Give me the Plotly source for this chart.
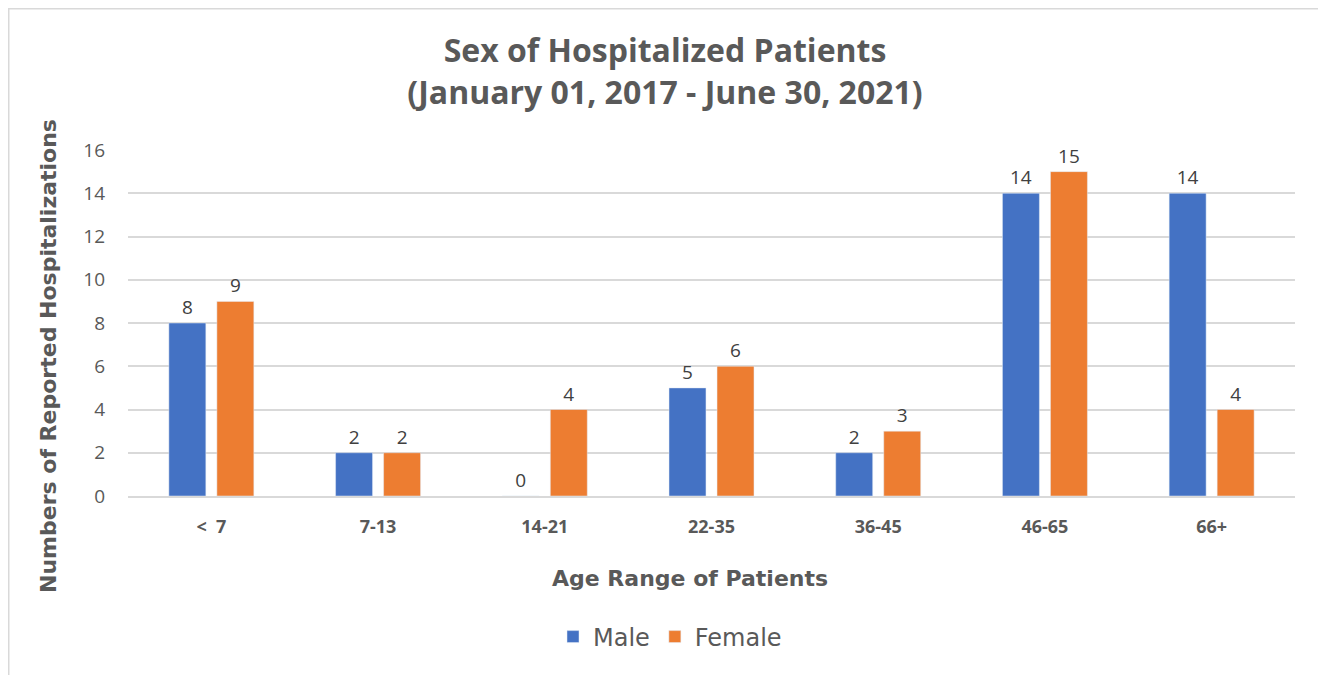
import plotly.graph_objects as go

# data
age_ranges = ["<  7", "7-13", "14-21", "22-35", "36-45", "46-65", "66+"]
male = [8, 2, 0, 5, 2, 14, 14]
female = [9, 2, 4, 6, 3, 15, 4]
y_ticks = [0, 2, 4, 6, 8, 10, 12, 14, 16]

GRAY = "#595959"
LABEL = "#404040"

# the page puts the figure 8px in from the top left corner
W, H = 1318, 667
ML, MR, MT, MB = 120, 31, 142, 179
PW, PH = W - ML - MR, H - MT - MB

fig = go.Figure()
fig.add_trace(go.Bar(
    x=age_ranges, y=male, name="Male",
    marker=dict(color="#4472C4"),
    text=male, textposition="outside", cliponaxis=False,
    textfont=dict(family="Open Sans", size=19, color=LABEL),
))
fig.add_trace(go.Bar(
    x=age_ranges, y=female, name="Female",
    marker=dict(color="#ED7D31"),
    text=female, textposition="outside", cliponaxis=False,
    textfont=dict(family="Open Sans", size=19, color=LABEL),
))

fig.update_layout(
    width=W, height=H,
    barmode="group", bargap=0.424, bargroupgap=0.23,
    plot_bgcolor="white", paper_bgcolor="white",
    margin=dict(l=ML, r=MR, t=MT, b=MB),
    title=dict(
        text="<b>Sex of Hospitalized Patients<br>(January 01, 2017 - June 30, 2021)</b>",
        x=(665 - 8) / W, xanchor="center", y=1 - 54 / H, yanchor="top",
        font=dict(family="Open Sans", size=32, color=GRAY),
    ),
    xaxis=dict(
        tickfont=dict(family="Open Sans", size=18, color=GRAY, weight="bold"),
        showline=True, linecolor="#D9D9D9", linewidth=1.5,
        ticks="", showgrid=False, ticklabelstandoff=14,
    ),
    yaxis=dict(
        range=[0, 16], tickvals=y_ticks,
        tickfont=dict(family="Open Sans", size=19, color=GRAY),
        gridcolor="#D9D9D9", gridwidth=1.5, zeroline=False,
        ticklabelstandoff=22,
    ),
    legend=dict(
        orientation="h", x=(670 - 128) / PW, xanchor="center",
        y=(496 - 637) / PH, yanchor="middle",
        font=dict(family="DejaVu Sans", size=24, color=GRAY),
        itemwidth=30, traceorder="normal",
    ),
)

# axis titles sit off the plot centre in the original, so place them by hand
fig.add_annotation(
    text="<b>Age Range of Patients</b>", showarrow=False,
    xref="paper", yref="paper",
    x=(690 - 128) / PW, y=(496 - 578) / PH, xanchor="center", yanchor="middle",
    font=dict(family="DejaVu Sans", size=22, color=GRAY),
)
fig.add_annotation(
    text="<b>Numbers of Reported Hospitalizations</b>", showarrow=False,
    xref="paper", yref="paper", textangle=-90,
    x=(48 - 128) / PW, y=(496 - 356) / PH, xanchor="center", yanchor="middle",
    font=dict(family="DejaVu Sans", size=22, color=GRAY),
)

# chart border
fig.add_shape(type="rect", xref="paper", yref="paper",
              x0=-(ML - 0.75) / PW, x1=(1323 - 8 - ML) / PW,
              y0=-(MB + 5) / PH, y1=1 + (MT - 0.75) / PH,
              line=dict(color="#D9D9D9", width=1.5), fillcolor="rgba(0,0,0,0)",
              layer="below")

fig.write_html("out.html")
